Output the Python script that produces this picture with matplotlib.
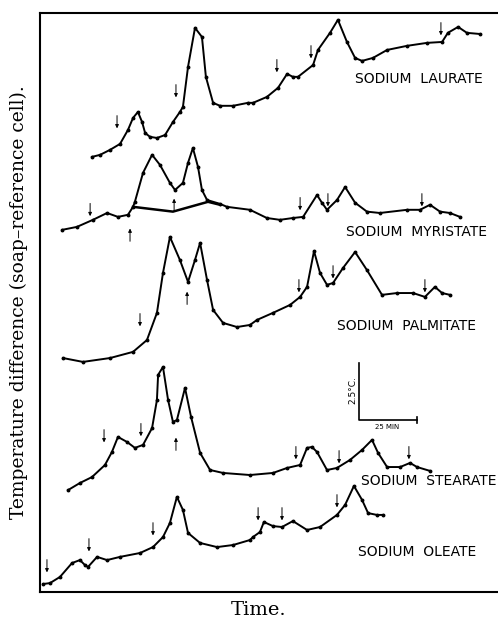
import matplotlib.pyplot as plt

# Cooling curves of sodium soaps: temperature difference (soap - reference cell)
# against time. Heights are in deg C on the chart's own scale, each trace shifted
# upward for clarity; times are in minutes.

laurate_t = [22.4, 25.9, 30.2, 34.5, 37.9, 40.1, 42.2, 44.0, 45.3, 47.4, 50.4, 53.9,
             57.3, 60.3, 61.6, 63.8, 66.8, 69.8, 71.5, 74.6, 77.6, 83.2, 89.6, 91.8,
             97.8, 102.6, 106.5, 109.0, 111.2, 117.7, 119.8, 125.0, 128.4, 132.3,
             135.8, 138.8, 143.5, 149.6, 158.2, 166.8, 173.3, 175.8, 180.2, 184.0, 189.6]
laurate_dt = [19.08, 19.17, 19.39, 19.65, 20.26, 20.79, 21.05, 20.61, 20.13, 19.96,
              19.91, 20.04, 20.61, 21.05, 21.27, 23.03, 24.74, 24.34, 22.59, 21.45,
              21.32, 21.32, 21.45, 21.45, 21.71, 22.11, 22.72, 22.59, 22.59, 23.11,
              23.77, 24.52, 25.09, 24.12, 23.42, 23.29, 23.42, 23.77, 23.95, 24.08,
              24.12, 24.52, 24.78, 24.52, 24.47]

myristate_t = [9.5, 15.9, 22.8, 28.9, 33.6, 37.9, 40.1, 40.9, 44.4, 48.3, 51.7, 56.0,
               58.2, 61.6, 63.8, 65.9, 68.1, 69.8, 72.0, 77.6, 80.6, 90.5, 97.8, 103.4,
               109.0, 113.4, 119.4, 121.5, 123.7, 128.0, 131.5, 135.8, 140.9, 146.5,
               158.2, 163.8, 168.1, 172.4, 176.7, 181.0]
myristate_dt = [15.88, 16.01, 16.32, 16.62, 16.45, 16.54, 16.89, 17.11, 18.38, 19.17,
                18.73, 17.94, 17.63, 17.94, 18.82, 19.47, 18.64, 17.63, 17.19, 17.02,
                16.89, 16.76, 16.40, 16.32, 16.40, 16.45, 17.41, 17.07, 16.76, 17.19,
                17.76, 17.07, 16.68, 16.62, 16.76, 16.76, 16.98, 16.68, 16.62, 16.45]
myristate_base_t = [40.1, 57.3, 72.4, 77.6]
myristate_base_dt = [16.89, 16.68, 17.11, 16.98]

palmitate_t = [9.9, 18.5, 30.2, 40.1, 46.1, 50.4, 53.0, 56.0, 60.3, 63.8, 66.8, 69.0,
               72.0, 74.6, 78.9, 84.9, 90.5, 93.5, 100.4, 107.8, 112.1, 115.1, 118.1,
               120.7, 123.7, 126.3, 130.6, 135.8, 140.9, 147.4, 153.9, 160.8, 165.9,
               170.2, 173.3, 176.7]
palmitate_dt = [10.26, 10.09, 10.26, 10.53, 11.05, 12.24, 13.99, 15.57, 14.56, 13.60,
                14.56, 15.31, 13.68, 12.37, 11.80, 11.62, 11.71, 11.93, 12.24, 12.59,
                12.94, 13.38, 14.95, 13.99, 13.47, 13.55, 14.21, 14.91, 14.12, 13.03,
                13.11, 13.11, 12.94, 13.38, 13.11, 13.03]

stearate_t = [12.1, 17.2, 22.4, 28.0, 31.0, 33.6, 37.5, 40.9, 44.4, 48.3, 50.4, 50.9,
              53.0, 55.2, 57.3, 59.0, 62.5, 65.1, 69.0, 73.3, 78.9, 90.5, 100.4, 106.5,
              112.1, 115.1, 117.2, 119.4, 123.7, 128.0, 133.6, 138.8, 143.1, 145.7,
              149.6, 155.2, 159.5, 162.5, 168.1]
stearate_dt = [4.47, 4.78, 5.04, 5.57, 6.14, 6.80, 6.58, 6.32, 6.45, 7.19, 8.42, 9.52,
               9.87, 8.42, 7.46, 7.54, 8.95, 7.68, 6.10, 5.35, 5.22, 5.13, 5.22, 5.44,
               5.57, 6.32, 6.36, 6.14, 5.35, 5.44, 5.79, 6.23, 6.67, 6.10, 5.48, 5.48,
               5.66, 5.48, 5.31]

oleate_t = [1.3, 4.3, 8.6, 13.8, 17.2, 19.4, 20.7, 24.6, 28.9, 34.5, 43.1, 48.7, 53.0,
            56.0, 59.0, 61.6, 63.8, 69.0, 76.3, 83.2, 90.5, 91.8, 94.8, 96.5, 100.4,
            104.3, 109.0, 115.1, 120.7, 128.0, 131.5, 135.3, 138.8, 141.4, 145.2, 147.8]
oleate_dt = [0.35, 0.39, 0.66, 1.27, 1.40, 1.18, 1.10, 1.54, 1.40, 1.54, 1.71, 1.97,
             2.41, 3.03, 4.17, 3.60, 2.59, 2.15, 1.97, 2.06, 2.28, 2.41, 2.63, 3.07,
             2.89, 2.85, 3.11, 2.72, 2.85, 3.38, 3.82, 4.65, 4.04, 3.46, 3.38, 3.38]

# transition arrows: time, height of arrow centre, pointing down (True) or up
arrow_t = [33.2, 58.6, 102.1, 116.8, 172.8,
           21.6, 112.1, 124.1, 164.6, 38.8, 57.8,
           43.1, 63.4, 111.6, 126.3, 165.9,
           27.6, 43.5, 58.6, 110.3, 128.9, 159.0,
           3.0, 21.1, 48.7, 94.0, 104.3, 128.0]
arrow_dt = [20.61, 21.97, 23.07, 23.68, 24.69,
            16.76, 17.02, 17.19, 17.19, 15.66, 16.97,
            11.93, 12.89, 13.42, 14.03, 13.42,
            6.84, 7.11, 6.49, 6.10, 5.92, 6.10,
            1.14, 2.06, 2.76, 3.42, 3.42, 3.99]
arrow_down = [True, True, True, True, True,
              True, True, True, True, False, False,
              True, False, True, True, True,
              True, True, False, True, True, True,
              True, True, True, True, True, True]

soap_names = ["SODIUM  LAURATE", "SODIUM  MYRISTATE", "SODIUM  PALMITATE",
              "SODIUM  STEARATE", "SODIUM  OLEATE"]
name_t = [135.8, 131.9, 128.0, 138.4, 137.1]
name_dt = [22.50, 15.79, 11.67, 4.87, 1.75]


def main() -> None:
    fig = plt.figure(figsize=(4.98, 6.21), dpi=100)
    ax = fig.add_axes([40 / 498, 29 / 621, 458 / 498, 579 / 621])

    curves = [
        (laurate_t, laurate_dt),
        (myristate_t, myristate_dt),
        (palmitate_t, palmitate_dt),
        (stearate_t, stearate_dt),
        (oleate_t, oleate_dt),
    ]
    for times, heights in curves:
        ax.plot(times, heights, color="black", linewidth=1.4,
                marker="o", markersize=1.8, solid_joinstyle="round")

    ax.plot(myristate_base_t, myristate_base_dt, color="black", linewidth=1.8)

    half = 0.28
    for t, h, down in zip(arrow_t, arrow_dt, arrow_down):
        top, bottom = h + half, h - half
        tip, tail = (bottom, top) if down else (top, bottom)
        ax.annotate("", xy=(t, tip), xytext=(t, tail),
                    arrowprops=dict(arrowstyle="-|>", color="black",
                                    linewidth=0.7, mutation_scale=5,
                                    shrinkA=0, shrinkB=0))

    for name, t, h in zip(soap_names, name_t, name_dt):
        ax.text(t, h, name, fontsize=10, va="center", ha="left",
                family="DejaVu Sans", color="black")

    # scale bar: 2.5 deg C by 25 min
    bar_t, bar_dt = 137.3, 7.54
    ax.plot([bar_t, bar_t, bar_t + 25], [bar_dt + 2.5, bar_dt, bar_dt],
            color="black", linewidth=1.2)
    ax.plot([bar_t + 25, bar_t + 25], [bar_dt - 0.15, bar_dt + 0.15],
            color="black", linewidth=1.2)
    ax.text(bar_t - 2.6, bar_dt + 1.3, "2.5°C.", rotation=90, fontsize=6.5,
            ha="center", va="center")
    ax.text(bar_t + 12.5, bar_dt - 0.3, "25 MIN", fontsize=5, ha="center",
            va="center")

    ax.set_xlim(0, 197.4)
    ax.set_ylim(0, 25.39)
    ax.set_xticks([])
    ax.set_yticks([])
    ax.spines["right"].set_visible(False)
    for side in ("left", "top", "bottom"):
        ax.spines[side].set_linewidth(1.5)

    fig.text(19 / 498, 1 - 302 / 621,
             "Temperature difference (soap\u2013reference cell).",
             rotation=90, ha="center", va="center", fontsize=13.5,
             family="DejaVu Serif")
    fig.text(259 / 498, 1 - 610 / 621, "Time.", ha="center", va="center",
             fontsize=14, family="DejaVu Serif")

    fig.savefig("out.png", dpi=100)


if __name__ == "__main__":
    main()
